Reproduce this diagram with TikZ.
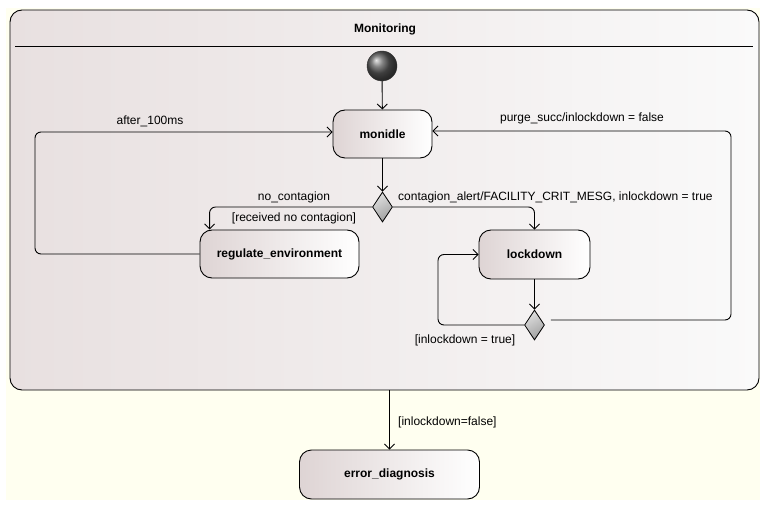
\documentclass[tikz,border=0pt]{standalone}
\usepackage{fontspec}
\setmainfont{Liberation Sans}
\usetikzlibrary{arrows.meta,shapes.geometric,calc}
\definecolor{bgyellow}{RGB}{255,255,240}
\definecolor{statel}{RGB}{222,212,212}
\definecolor{boxl}{RGB}{232,224,224}
\definecolor{boxr}{RGB}{250,250,250}
\tikzset{
  arr/.style={draw=black, line width=0.9pt, rounded corners=6pt, -{Straight Barb[length=5pt,width=10pt]}},
  statebox/.style={draw=black, line width=0.9pt, rounded corners=12pt, left color=statel, right color=white,
     font=\fontsize{12}{14}\selectfont\bfseries, inner sep=0pt},
  choice/.style={diamond, draw=black, line width=0.8pt, minimum width=20pt, minimum height=30pt, inner sep=0pt,
     shading=axis, top color=gray!25, bottom color=gray!75, shading angle=30},
  lbl/.style={font=\fontsize{12}{14}\selectfont, inner sep=0pt},
}
\begin{document}
\begin{tikzpicture}[x=1pt,y=-1pt]
\useasboundingbox (0,0) rectangle (770,510);
\fill[white] (0,0) rectangle (770,510);
\fill[bgyellow] (6,8) rectangle (760,500);
% composite state
\node[draw=black, line width=0.9pt, rounded corners=12pt, left color=boxl, right color=boxr,
      minimum width=749pt, minimum height=380pt, inner sep=0pt] (box) at (384.5,200) {};
\node[font=\fontsize{12}{14}\selectfont\bfseries] (title) at (385,29) {Monitoring};
\draw[line width=0.9pt] (15,46) -- (753,46);
% states
\node[circle, minimum size=30pt, inner sep=0pt, ball color=black!65, draw=black!80] (init) at (382,66) {};
\node[statebox, minimum width=99pt, minimum height=48pt] (monidle) at (382.5,134) {monidle};
\node[choice] (d1) at (382.5,207) {};
\node[statebox, minimum width=159pt, minimum height=48pt] (reg) at (279.5,254) {regulate\_environment};
\node[statebox, minimum width=111pt, minimum height=49pt] (lock) at (534.5,254.5) {lockdown};
\node[choice] (d2) at (534.5,325) {};
\node[statebox, minimum width=180pt, minimum height=49pt] (err) at (389.5,474.5) {error\_diagnosis};
% helper coordinates
\coordinate (al) at (35,132);
\coordinate (pr) at (731,131);
\coordinate (ll) at (438,0);
% connectors
\draw[arr] (init) -- (monidle);
\draw[arr] (monidle) -- (d1);
\draw[arr] (d1.west) -| ([xshift=10pt]reg.north west);
\draw[arr] (d1.east) -| (lock.north);
\draw[arr] (lock) -- (d2);
\draw[arr] (d2.west) -| (ll |- lock.west) -- (lock.west);
\draw[arr] ([shift={(6pt,5pt)}]d2.east) -| (pr) -- (monidle.east |- pr);
\draw[arr] (reg.west) -| (al) -- (monidle.west |- al);
\draw[arr] (err.north |- box.south) -- (err.north);
% labels
\node[lbl] (l1) at (150,121) {after\_100ms};
\node[lbl] (l2) at (582,118) {purge\_succ/inlockdown = false};
\node[lbl] (l3) at (294,197) {no\_contagion};
\node[lbl] (l4) at (294,218) {[received no contagion]};
\node[lbl, anchor=west] (l5) at (398,197) {contagion\_alert/FACILITY\_CRIT\_MESG, inlockdown = true};
\node[lbl] (l6) at (465,340) {[inlockdown = true]};
\node[lbl, anchor=west] (l7) at (398,422) {[inlockdown=false]};
\end{tikzpicture}
\end{document}
